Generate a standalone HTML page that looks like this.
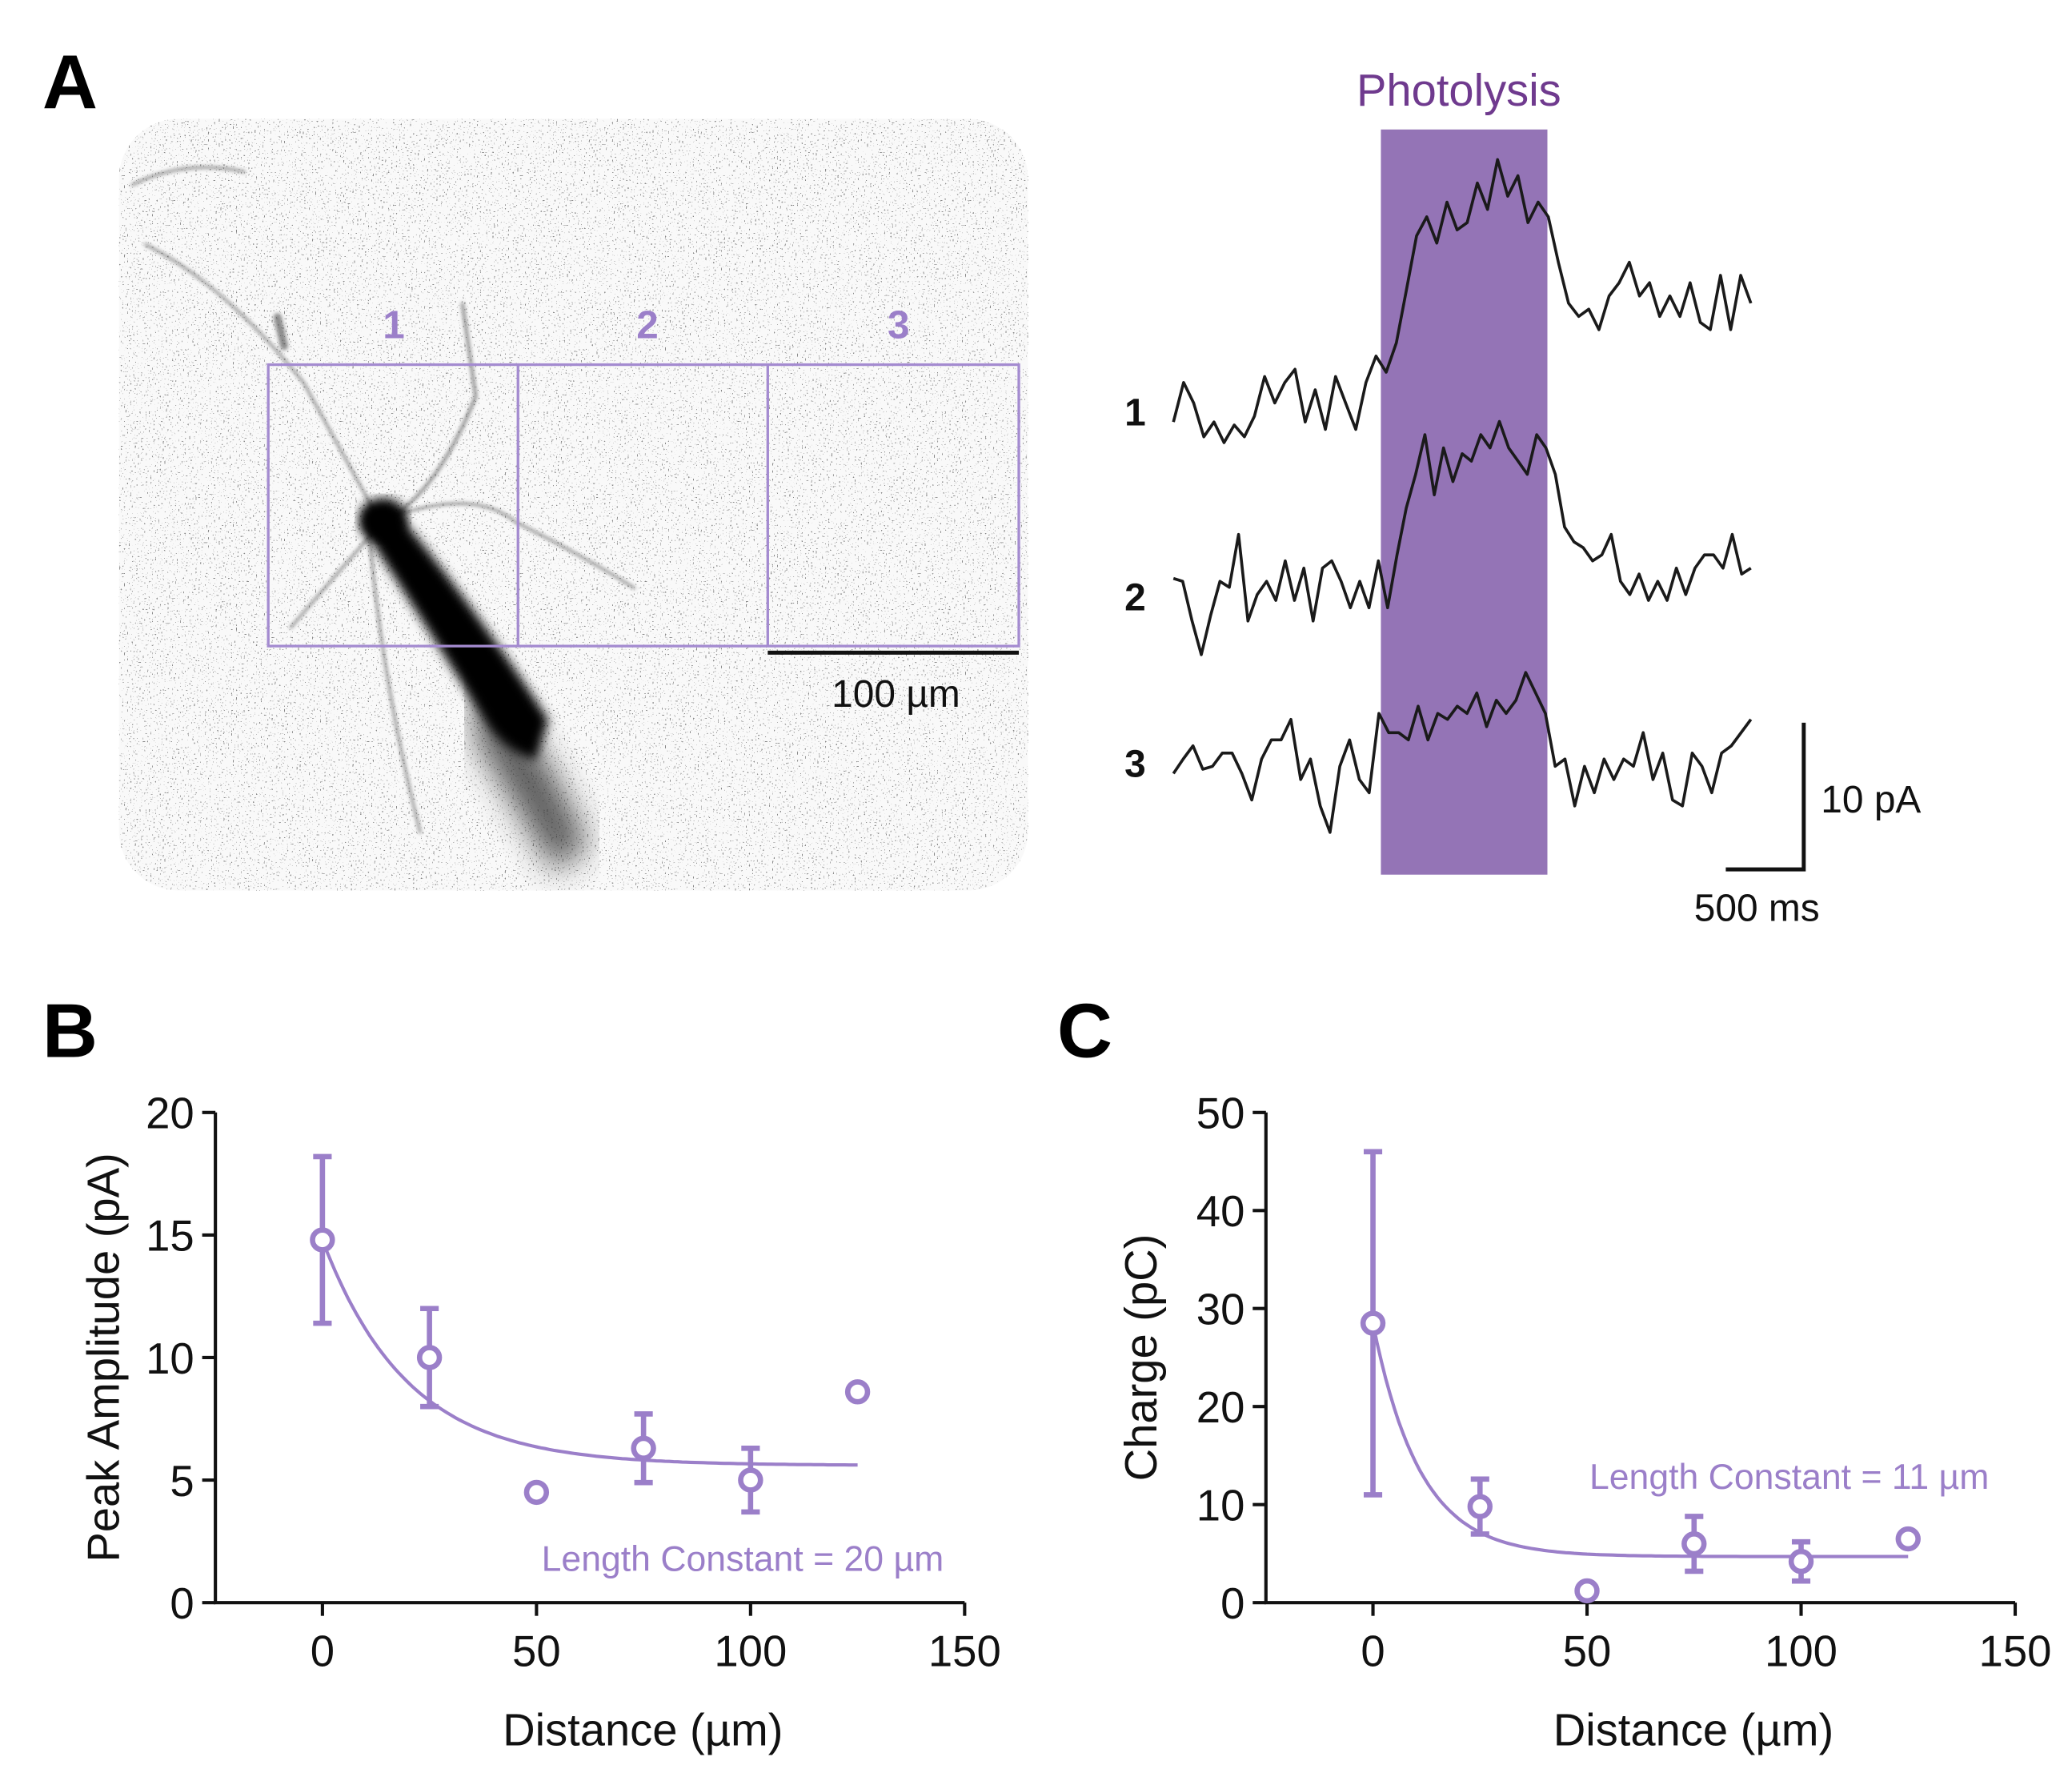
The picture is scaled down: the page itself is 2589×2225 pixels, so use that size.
<!DOCTYPE html>
<html><head><meta charset="utf-8"><style>
html,body{margin:0;padding:0;background:#fff}
svg{display:block}
text{font-family:"Liberation Sans",Arial,sans-serif}
</style></head><body>
<svg id="fig" width="2589" height="2225" viewBox="0 0 1568 1348" preserveAspectRatio="none">
<defs>
<filter id="speck" x="0" y="0" width="1" height="1">
<feTurbulence type="fractalNoise" baseFrequency="0.85" numOctaves="1" seed="3"/>
<feColorMatrix type="matrix" values="0 0 0 0 0  0 0 0 0 0  0 0 0 0 0  -30 0 0 0 10"/>
</filter>
<filter id="blur2"><feGaussianBlur stdDeviation="1.5"/></filter>
<filter id="blur4"><feGaussianBlur stdDeviation="4"/></filter>
<filter id="blur10"><feGaussianBlur stdDeviation="12"/></filter>
<clipPath id="imgclip"><rect x="90" y="90" width="688" height="584" rx="45"/></clipPath>
</defs>
<rect width="1568" height="1348" fill="#fff"/>
<text x="32" y="82" font-size="58" font-weight="bold">A</text>
<g clip-path="url(#imgclip)">
<rect x="90" y="90" width="688" height="584" fill="#f9f9f9"/>
<rect x="90" y="90" width="688" height="584" fill="#000" filter="url(#speck)" opacity="0.45"/>
<g stroke="#444" fill="none" stroke-linecap="round" filter="url(#blur2)" opacity="0.6">
<path d="M100 140 Q140 120 185 130" stroke-width="2"/>
<path d="M110 185 Q170 215 230 290 L285 390" stroke-width="2"/>
<path d="M290 395 Q330 375 360 300 L350 230" stroke-width="2.5"/>
<path d="M300 390 Q360 370 390 395 Q440 420 480 445" stroke-width="2"/>
<path d="M285 400 Q250 440 220 475" stroke-width="2"/>
<path d="M280 410 Q290 520 318 630" stroke-width="2"/>
<path d="M210 240 L215 262" stroke-width="6"/>
</g>
<path d="M360 500 Q410 560 445 640 L420 660 Q390 610 360 560 Z" fill="#333" filter="url(#blur10)" opacity="0.8"/>
<path d="M278 385 L302 390 Q360 460 415 545 L405 575 Q385 570 370 550 Q320 470 275 400 Z" fill="#050505" filter="url(#blur4)"/>
<ellipse cx="290" cy="393" rx="18" ry="16" fill="#000" filter="url(#blur4)"/>
</g>
<g stroke="#a48bd0" stroke-width="2" fill="none">
<rect x="203" y="276" width="568" height="213"/>
<line x1="392" y1="276" x2="392" y2="489"/><line x1="581" y1="276" x2="581" y2="489"/>
</g>
<g fill="#9b7fc9" font-size="30" font-weight="bold" text-anchor="middle">
<text x="298" y="256">1</text>
<text x="490" y="256">2</text>
<text x="680" y="256">3</text>
</g>
<line x1="581" y1="494" x2="771" y2="494" stroke="#111" stroke-width="3"/>
<text x="678" y="535" font-size="29" text-anchor="middle" fill="#111">100 µm</text>

<rect x="1045" y="98" width="126" height="564" fill="#9474b6"/>
<text x="1104" y="80" font-size="34" text-anchor="middle" fill="#6f3a8e">Photolysis</text>
<g font-size="29" font-weight="bold" fill="#111">
<text x="851" y="322">1</text>
<text x="851" y="462">2</text>
<text x="851" y="588">3</text>
</g>
<g id="traces"></g>
<path d="M1365 547 V658 H1306" stroke="#111" stroke-width="3" fill="none"/>
<text x="1378" y="615" font-size="29" fill="#111">10 pA</text>
<text x="1282" y="697" font-size="29" fill="#111">500 ms</text>

<text x="32" y="800" font-size="58" font-weight="bold">B</text>
<text x="800" y="800" font-size="58" font-weight="bold">C</text>
<g id="chartB"></g>
<g id="chartC"></g>
</svg>
<script>
const NS="http://www.w3.org/2000/svg";
const trace1=[0.5,3.2,1.8,-0.5,0.5,-0.9,0.3,-0.5,0.9,3.6,1.8,3.2,4.1,0.5,2.7,0,3.6,1.8,0,3.2,5,3.9,5.9,9.5,13.2,14.5,12.7,15.5,13.6,14.1,16.8,15,18.4,15.9,17.3,14.1,15.5,14.5,11.4,8.6,7.7,8.2,6.8,9.1,10,11.4,9.1,10,7.7,9.1,7.7,10,7.3,6.8,10.5,6.8,10.5,8.6];
const trace2=[2,1.8,-0.9,-3.2,-0.5,1.8,1.4,5,-0.9,0.9,1.8,0.5,3.2,0.5,2.7,-0.9,2.7,3.2,1.8,0,1.8,0,3.2,0,3.6,6.8,9.1,11.8,7.7,10.9,8.6,10.5,10,11.8,10.9,12.7,10.9,10,9.1,11.8,10.9,9.1,5.5,4.5,4.1,3.2,3.6,5,1.8,0.9,2.3,0.5,1.8,0.5,2.7,0.9,2.7,3.6,3.6,2.7,5,2.3,2.7];
const trace3=[-0.5,0.5,1.4,-0.2,0,0.9,0.9,-0.5,-2.3,0.5,1.8,1.8,3.2,-0.9,0.5,-2.7,-4.5,0,1.8,-0.9,-1.8,3.6,2.3,2.3,1.8,4.1,1.8,3.6,3.2,4.1,3.6,5,2.7,4.5,3.6,4.5,6.4,5,3.6,0,0.5,-2.7,0,-1.8,0.5,-0.9,0.5,0,2.3,-0.9,0.9,-2.3,-2.7,0.9,0,-1.8,0.9,1.4,2.3,3.2];
const distances=[0,25,50,75,100,125];
const ampMean=[14.8,10,4.5,6.3,5.0,8.6];
const ampErr=[3.4,2,0,1.4,1.3,0];
const chargeMean=[28.5,9.8,1.2,6,4.2,6.5];
const chargeErr=[17.5,2.8,0,2.8,2,0];
const xTicks=[0,50,100,150];
const ampTicks=[0,5,10,15,20];
const chargeTicks=[0,10,20,30,40,50];
const ampFit={plateau:5.6,span:9.2,lambda:20};
const chargeFit={plateau:4.7,span:23.8,lambda:11};
function mk(tag,attrs,parent){const e=document.createElementNS(NS,tag);for(const k in attrs)e.setAttribute(k,attrs[k]);parent.appendChild(e);return e;}
const tg=document.getElementById('traces');
[[trace1,325],[trace2,460],[trace3,580]].forEach((t,i)=>{
  const [vals,base]=t;const x0=888,x1=1325;
  const d=vals.map((v,j)=>(j?'L':'M')+(x0+(x1-x0)*j/(vals.length-1)).toFixed(1)+' '+(base-v*11.1).toFixed(1)).join(' ');
  const p=mk('path',{d:d,fill:'none',stroke:'#1a1a1a','stroke-width':2.2,'stroke-linejoin':'round'},tg);
  
  
});
function chart(g,o){
  const P='#9b7fc9';
  const xs=v=>o.x0+(v-(-25))*(o.x1-o.x0)/175;
  const ys=v=>o.yb-v*(o.yb-o.yt)/o.ymax;
  mk('path',{d:`M${o.x0} ${o.yt} V${o.yb} H${o.x1}`,stroke:'#111','stroke-width':2.5,fill:'none'},g);
  o.xt.forEach(t=>{mk('line',{x1:xs(t),x2:xs(t),y1:o.yb,y2:o.yb+10,stroke:'#111','stroke-width':2.5},g);
    const tx=mk('text',{x:xs(t),y:o.yb+48,'font-size':33,'text-anchor':'middle',fill:'#111'},g);tx.textContent=t;
    });
  o.yt_.forEach(t=>{mk('line',{x1:o.x0-10,x2:o.x0,y1:ys(t),y2:ys(t),stroke:'#111','stroke-width':2.5},g);
    const tx=mk('text',{x:o.x0-16,y:ys(t)+12,'font-size':33,'text-anchor':'end',fill:'#111'},g);tx.textContent=t;
    });
  const xl=mk('text',{x:(o.x0+o.x1)/2+40,y:o.yb+108,'font-size':34,'text-anchor':'middle',fill:'#111'},g);xl.textContent='Distance (µm)';
  
  const yl=mk('text',{x:0,y:0,'font-size':34,'text-anchor':'middle',fill:'#111',transform:`translate(${o.ylx},${(o.yt+o.yb)/2+o.ydy}) rotate(-90)`},g);yl.textContent=o.ylabel;
  
  let d='';for(let x=0;x<=125;x+=1){const y=o.fit.plateau+o.fit.span*Math.exp(-x/o.fit.lambda);d+=(x?'L':'M')+xs(x).toFixed(1)+' '+ys(y).toFixed(1)+' ';}
  const fp=mk('path',{d:d,stroke:P,'stroke-width':2.5,fill:'none'},g);
  
  distances.forEach((x,i)=>{const m=o.mean[i],e=o.err[i];
    if(e>0){const eb=mk('path',{d:`M${xs(x)} ${ys(m+e)} V${ys(m-e)} M${xs(x)-7} ${ys(m+e)} H${xs(x)+7} M${xs(x)-7} ${ys(m-e)} H${xs(x)+7}`,stroke:P,'stroke-width':4,fill:'none'},g);
      }
    const c=mk('circle',{cx:xs(x),cy:ys(m),r:7.5,fill:'#fff',stroke:P,'stroke-width':4},g);
    });
  const lt=mk('text',{x:o.lx,y:o.ly,'font-size':27,'text-anchor':'middle',fill:P},g);lt.textContent=o.ltext;
  
}
chart(document.getElementById('chartB'),{x0:163,x1:730,yt:842,yb:1213,ymax:20,xt:xTicks,yt_:ampTicks,mean:ampMean,err:ampErr,fit:ampFit,ylabel:'Peak Amplitude (pA)',ylx:90,ydy:0,lx:562,ly:1189,ltext:'Length Constant = 20 µm'});
chart(document.getElementById('chartC'),{x0:958,x1:1525,yt:842,yb:1213,ymax:50,xt:xTicks,yt_:chargeTicks,mean:chargeMean,err:chargeErr,fit:chargeFit,ylabel:'Charge (pC)',ylx:875,ydy:0,lx:1354,ly:1127,ltext:'Length Constant = 11 µm'});
</script>
</body></html>
